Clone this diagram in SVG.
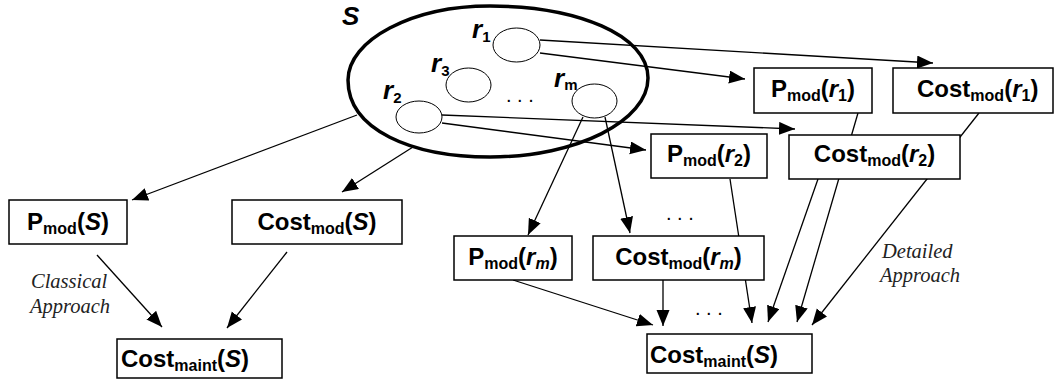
<svg xmlns="http://www.w3.org/2000/svg" width="1055" height="380" viewBox="0 0 1055 380">
  <style>
    .box { fill: #fff; stroke: #000; stroke-width: 1.5; }
    .lbl { font-family: "Liberation Sans", Arial, sans-serif; font-weight: bold; font-size: 24px; fill: #000; }
    .sub { font-size: 16px; }
    .it { font-style: italic; }
    .note { font-family: "Liberation Serif", "Times New Roman", serif; font-style: italic; font-size: 20.5px; fill: #222; }
    .dots { font-family: "Liberation Sans", Arial, sans-serif; font-size: 20px; fill: #000; }
    .rel { fill: #fff; stroke: #000; stroke-width: 1; }
    .rname { font-family: "Liberation Sans", Arial, sans-serif; font-weight: bold; font-style: italic; font-size: 26px; fill: #000; }
    .rsub { font-style: normal; font-size: 15px; }
    .edge { fill: none; stroke: #000; stroke-width: 1.3; }
  </style>
  <defs>
    <marker id="arrow" markerUnits="userSpaceOnUse" markerWidth="17" markerHeight="14" refX="16" refY="6.5" orient="auto">
      <path d="M0,0 L16,6.5 L0,13 Z" fill="#000"/>
    </marker>
  </defs>

  <rect width="1055" height="380" fill="#fff"/>

  <!-- connectors -->
  <g id="connectors" class="edge" marker-end="url(#arrow)">
    <line x1="540" y1="40" x2="933" y2="63"/>
    <line x1="540" y1="53" x2="745" y2="79"/>
    <line x1="442" y1="115" x2="795" y2="129"/>
    <line x1="442" y1="123" x2="646" y2="150"/>
    <line x1="583" y1="117" x2="528" y2="235"/>
    <line x1="605" y1="117" x2="630" y2="233"/>
    <line x1="357" y1="115" x2="132" y2="200"/>
    <line x1="413" y1="147" x2="342" y2="192"/>
    <line x1="97" y1="255" x2="162" y2="327"/>
    <line x1="287" y1="252" x2="227" y2="328"/>
    <line x1="513" y1="280" x2="653" y2="325"/>
    <line x1="663" y1="280" x2="663" y2="326"/>
    <line x1="730" y1="179" x2="752" y2="323"/>
    <line x1="818" y1="179" x2="768" y2="322"/>
    <line x1="858" y1="113" x2="797" y2="322"/>
    <line x1="979" y1="113" x2="812" y2="325"/>
  </g>

  <!-- set S with its relations -->
  <g id="set-S">
    <path d="M348,80 C348,130 412,157 490,157 C577,157 648,121 648,78 C648,35 577,6 490,6 C412,6 348,40 348,80 Z" fill="none" stroke="#000" stroke-width="3.5"/>
    <text class="rname" x="342" y="25">S</text>
  </g>
  <g id="rel-r1">
    <ellipse class="rel" cx="516.5" cy="45" rx="23.5" ry="17"/>
    <text class="rname" x="472" y="38">r<tspan class="rsub" dy="4">1</tspan></text>
  </g>
  <g id="rel-r3">
    <ellipse class="rel" cx="468.5" cy="85" rx="22.5" ry="17"/>
    <text class="rname" x="431" y="72">r<tspan class="rsub" dy="4">3</tspan></text>
  </g>
  <g id="rel-r2">
    <ellipse class="rel" cx="419" cy="117" rx="23" ry="16"/>
    <text class="rname" x="383" y="99">r<tspan class="rsub" dy="4">2</tspan></text>
  </g>
  <g id="rel-rm">
    <ellipse class="rel" cx="594.5" cy="101" rx="22.5" ry="17"/>
    <text class="rname" x="554" y="87">r<tspan class="rsub" dy="3">m</tspan></text>
  </g>
  <text class="dots" x="506" y="101.5">. . .</text>

  <!-- classical side -->
  <g id="pmod-S">
    <rect class="box" x="9" y="200" width="118" height="44"/>
    <text class="lbl" x="68" y="230" text-anchor="middle">P<tspan class="sub" dy="4">mod</tspan><tspan dy="-4">(</tspan><tspan class="it">S</tspan>)</text>
  </g>
  <g id="costmod-S">
    <rect class="box" x="232" y="200" width="170" height="44"/>
    <text class="lbl" x="317" y="230" text-anchor="middle">Cost<tspan class="sub" dy="4">mod</tspan><tspan dy="-4">(</tspan><tspan class="it">S</tspan>)</text>
  </g>
  <g id="costmaint-classical">
    <rect class="box" x="117" y="339" width="165" height="39"/>
    <text class="lbl" x="121" y="367">Cost<tspan class="sub" dy="4">maint</tspan><tspan dy="-4">(</tspan><tspan class="it">S</tspan>)</text>
  </g>
  <text class="note" x="31" y="288">Classical</text>
  <text class="note" x="30" y="313">Approach</text>

  <!-- detailed side -->
  <g id="pmod-r1">
    <rect class="box" x="754" y="68" width="118" height="45"/>
    <text class="lbl" x="813" y="97" text-anchor="middle">P<tspan class="sub" dy="4">mod</tspan><tspan dy="-4">(</tspan><tspan class="it">r</tspan><tspan class="sub" dy="4">1</tspan><tspan dy="-4">)</tspan></text>
  </g>
  <g id="costmod-r1">
    <rect class="box" x="893" y="68" width="160" height="45"/>
    <text class="lbl" x="917" y="97">Cost<tspan class="sub" dy="4">mod</tspan><tspan dy="-4">(</tspan><tspan class="it">r</tspan><tspan class="sub" dy="4">1</tspan><tspan dy="-4">)</tspan></text>
  </g>
  <g id="pmod-r2">
    <rect class="box" x="651" y="134" width="116" height="44"/>
    <text class="lbl" x="709" y="162" text-anchor="middle">P<tspan class="sub" dy="4">mod</tspan><tspan dy="-4">(</tspan><tspan class="it">r</tspan><tspan class="sub" dy="4">2</tspan><tspan dy="-4">)</tspan></text>
  </g>
  <g id="costmod-r2">
    <rect class="box" x="789" y="135" width="171" height="44"/>
    <text class="lbl" x="874.5" y="162" text-anchor="middle">Cost<tspan class="sub" dy="4">mod</tspan><tspan dy="-4">(</tspan><tspan class="it">r</tspan><tspan class="sub" dy="4">2</tspan><tspan dy="-4">)</tspan></text>
  </g>
  <text class="dots" x="666" y="219.5">. . .</text>
  <g id="pmod-rm">
    <rect class="box" x="454" y="236" width="118" height="44"/>
    <text class="lbl" x="513" y="265" text-anchor="middle">P<tspan class="sub" dy="4">mod</tspan><tspan dy="-4">(</tspan><tspan class="it">r</tspan><tspan class="sub it" dy="4">m</tspan><tspan dy="-4">)</tspan></text>
  </g>
  <g id="costmod-rm">
    <rect class="box" x="593" y="236" width="171" height="44"/>
    <text class="lbl" x="678.5" y="265" text-anchor="middle">Cost<tspan class="sub" dy="4">mod</tspan><tspan dy="-4">(</tspan><tspan class="it">r</tspan><tspan class="sub it" dy="4">m</tspan><tspan dy="-4">)</tspan></text>
  </g>
  <text class="dots" x="695" y="314.5">. . .</text>
  <g id="costmaint-detailed">
    <rect class="box" x="647" y="334" width="165" height="39"/>
    <text class="lbl" x="650" y="363">Cost<tspan class="sub" dy="4">maint</tspan><tspan dy="-4">(</tspan><tspan class="it">S</tspan>)</text>
  </g>
  <text class="note" x="882" y="258">Detailed</text>
  <text class="note" x="880" y="282">Approach</text>
</svg>
